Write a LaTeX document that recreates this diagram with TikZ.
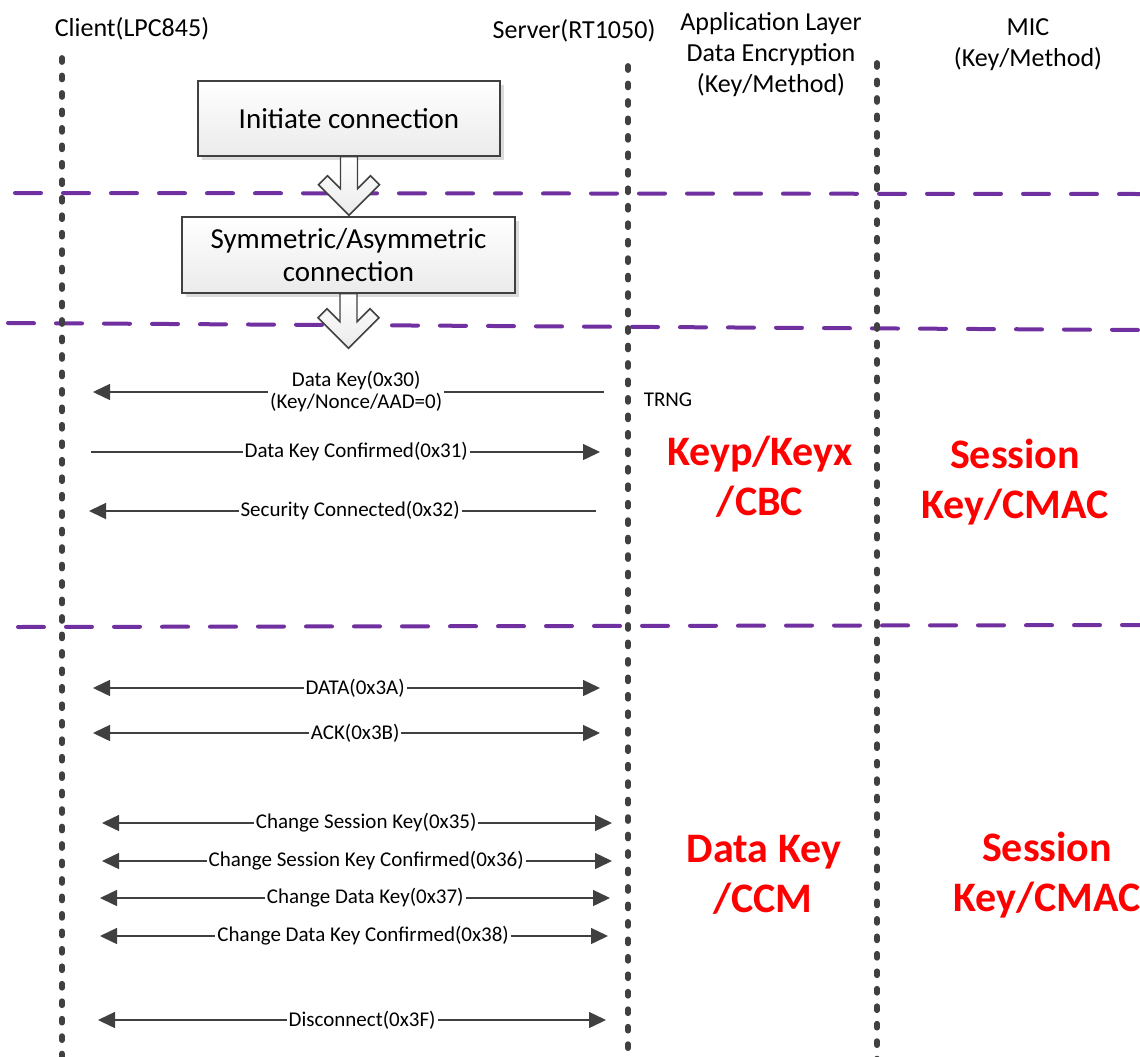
\documentclass[tikz,border=0pt]{standalone}
\usepackage{fontspec}
\setmainfont{Carlito}
\usetikzlibrary{arrows.meta}
\definecolor{dg}{HTML}{404040}
\definecolor{pur}{HTML}{7030A0}
\definecolor{redtxt}{HTML}{FF0000}
\begin{document}
\begin{tikzpicture}[x=0.75pt,y=-0.75pt,
  hdr/.style={font=\fontsize{19.5}{22.5}\selectfont, anchor=base, inner sep=0pt},
  bigred/.style={font=\fontsize{31.5}{37}\selectfont\bfseries, text=redtxt, anchor=base, inner sep=0pt},
  lbl/.style={font=\fontsize{15.75}{16.5}\selectfont, fill=white, inner xsep=1.5pt, inner ysep=0pt, align=center},
  plain/.style={font=\fontsize{15.75}{16.5}\selectfont, anchor=base, inner sep=0pt},
  lifeline/.style={draw=dg, line width=4.3pt, line cap=round, dash pattern=on 3pt off 10.1pt},
  divider/.style={draw=pur, line width=3pt, line cap=round, dash pattern=on 19.5pt off 16.5pt},
  tip/.tip={Triangle[length=12.75pt,width=12pt]},
  msg/.style={draw=dg, line width=1.1pt, -tip},
  dmsg/.style={draw=dg, line width=1.1pt, tip-tip},
  stepbox/.style={draw=dg, line width=1.1pt, top color=white, bottom color=black!8,
    font=\fontsize{21.75}{24.75}\selectfont, align=center, inner sep=0pt},
  blockarrow/.style={draw=dg, line width=1.1pt, line join=miter, top color=white, bottom color=black!8},
  shadowbox/.style={fill=black!14}
]
\clip (0,0) rectangle (1140,1057);

% header texts
\node[hdr] (hclient) at (132,36) {Client(LPC845)};
\node[hdr] (hserver) at (574,38) {Server(RT1050)};
\node[hdr] (happ1) at (771,30) {Application Layer};
\node[hdr] (happ2) at (771,61) {Data Encryption};
\node[hdr] (happ3) at (771,92) {(Key/Method)};
\node[hdr] (hmic1) at (1028,35.5) {MIC};
\node[hdr] (hmic2) at (1028,66) {(Key/Method)};

% purple phase dividers
\coordinate (d1a) at (15,193);  \coordinate (d1b) at (1140,194);
\coordinate (d2a) at (8,323);   \coordinate (d2b) at (1140,330);
\coordinate (d3a) at (18,627);  \coordinate (d3b) at (1140,625);
\draw[divider] (d1a) -- (d1b);
\draw[divider] (d2a) -- (d2b);
\draw[divider] (d3a) -- (d3b);

% lifelines
\coordinate (lc1) at (62,58);   \coordinate (lc2) at (62,1060);
\coordinate (ls1) at (628,66);  \coordinate (ls2) at (628,1060);
\coordinate (la1) at (877,63);  \coordinate (la2) at (877,1060);
\draw[lifeline] (lc1) -- (lc2);
\draw[lifeline] (ls1) -- (ls2);
\draw[lifeline] (la1) -- (la2);

% boxes
\fill[shadowbox] (202,85) rectangle (504,160);
\node[stepbox, minimum width=226.5pt, minimum height=56.25pt] (b1) at (349,118.5) {Initiate connection};
\fill[shadowbox] (186,221) rectangle (519,297);
\node[stepbox, minimum width=249.75pt, minimum height=57pt] (b2) at (348.5,255) {Symmetric/Asymmetric\\connection};

% block arrows
\draw[blockarrow] (b1.south) ++(-8.5,0) -- ++(0,32) -- ++(-13,-13) -- ++(-9,9) -- ++(30.5,30.5)
  -- ++(30.5,-30.5) -- ++(-9,-9) -- ++(-13,13) -- ++(0,-32) -- cycle;
\draw[blockarrow] (b2.south) ++(-8.5,0) -- ++(0,28) -- ++(-13,-13) -- ++(-9,9) -- ++(30.5,30.5)
  -- ++(30.5,-30.5) -- ++(-9,-9) -- ++(-13,13) -- ++(0,-28) -- cycle;

% messages, key exchange phase
\coordinate (m1s) at (604,392); \coordinate (m1e) at (93,392);
\draw[msg] (m1s) -- node[lbl, pos=0.485] (t1) {Data Key(0x30)\\(Key/Nonce/AAD=0)} (m1e);
\node[plain] (trng) at (668,406) {TRNG};
\coordinate (m2s) at (91,452); \coordinate (m2e) at (600,452);
\draw[msg] (m2s) -- node[lbl, pos=0.521] (t2) {Data Key Confirmed(0x31)} (m2e);
\coordinate (m3s) at (596,511); \coordinate (m3e) at (89,511);
\draw[msg] (m3s) -- node[lbl, pos=0.485] (t3) {Security Connected(0x32)} (m3e);

% messages, data phase
\coordinate (m4s) at (93,688); \coordinate (m4e) at (600,688);
\draw[dmsg] (m4s) -- node[lbl, pos=0.517] (t4) {DATA(0x3A)} (m4e);
\coordinate (m5s) at (93,733); \coordinate (m5e) at (600,733);
\draw[dmsg] (m5s) -- node[lbl, pos=0.517] (t5) {ACK(0x3B)} (m5e);
\coordinate (m6s) at (102,823); \coordinate (m6e) at (612,823);
\draw[dmsg] (m6s) -- node[lbl, pos=0.518] (t6) {Change Session Key(0x35)} (m6e);
\coordinate (m7s) at (102,861); \coordinate (m7e) at (612,861);
\draw[dmsg] (m7s) -- node[lbl, pos=0.518] (t7) {Change Session Key Confirmed(0x36)} (m7e);
\coordinate (m8s) at (100,898); \coordinate (m8e) at (610,898);
\draw[dmsg] (m8s) -- node[lbl, pos=0.520] (t8) {Change Data Key(0x37)} (m8e);
\coordinate (m9s) at (100,936); \coordinate (m9e) at (608,936);
\draw[dmsg] (m9s) -- node[lbl, pos=0.518] (t9) {Change Data Key Confirmed(0x38)} (m9e);
\coordinate (m10s) at (98,1020); \coordinate (m10e) at (606,1020);
\draw[dmsg] (m10s) -- node[lbl, pos=0.520] (t10) {Disconnect(0x3F)} (m10e);

% red method labels
\node[bigred] (r1a) at (760,465) {Keyp/Keyx};
\node[bigred] (r1b) at (760,515) {/CBC};
\node[bigred] (r2a) at (1015,468) {Session};
\node[bigred] (r2b) at (1015,518) {Key/CMAC};
\node[bigred] (r3a) at (764,862) {Data Key};
\node[bigred] (r3b) at (763,912) {/CCM};
\node[bigred] (r4a) at (1047,861) {Session};
\node[bigred] (r4b) at (1047,911) {Key/CMAC};
\end{tikzpicture}
\end{document}
